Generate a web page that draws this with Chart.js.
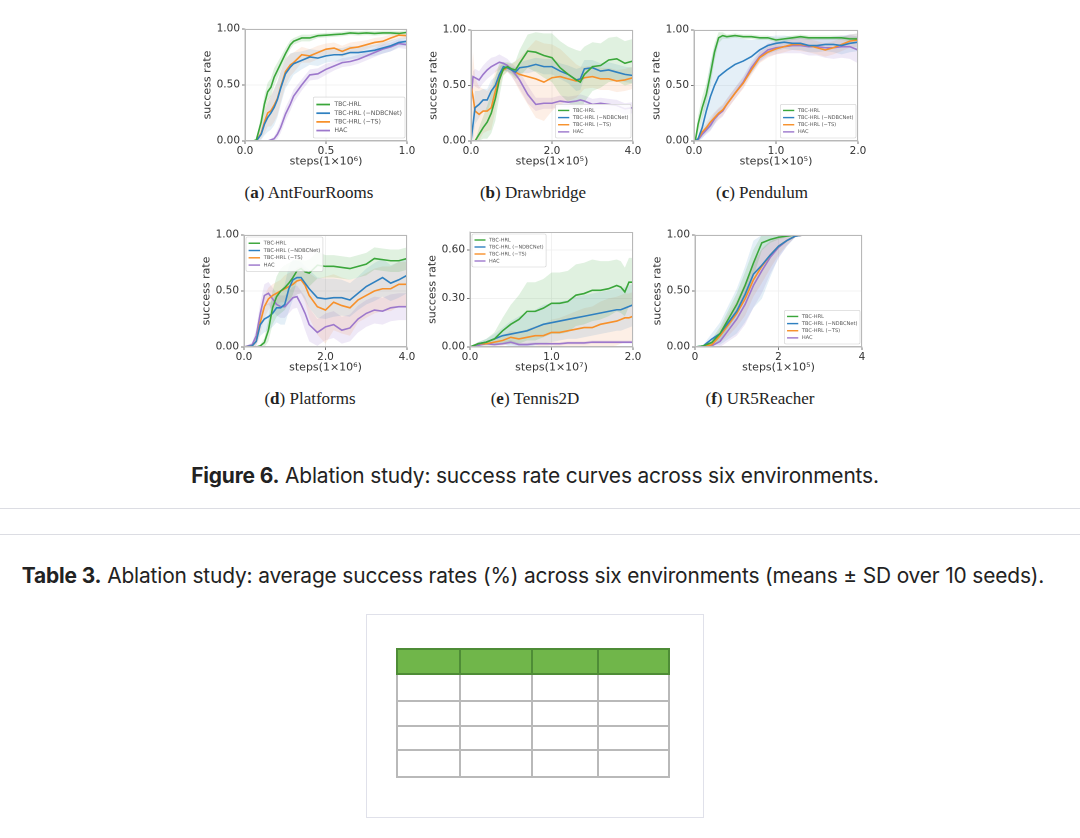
<!DOCTYPE html>
<html><head><meta charset="utf-8">
<script src="https://cdn.jsdelivr.net/npm/chart.js@4.4.1/dist/chart.umd.min.js"></script>
<style>
html,body{margin:0;padding:0;background:#fff;}
body{width:1080px;height:838px;position:relative;overflow:hidden;font-family:Inter,"Open Sans",sans-serif;}
.cv{position:absolute;}
.cap{position:absolute;font-family:"Liberation Serif","DejaVu Serif",serif;font-size:17px;color:#222;transform:translate(-50%,-50%);white-space:nowrap;line-height:1;}
.fig{position:absolute;font-size:20.9px;color:#222;transform:translate(-50%,-50%);white-space:nowrap;line-height:1;letter-spacing:-0.15px;}
.fig b{font-weight:700;}
.rule{position:absolute;left:0;width:1080px;height:1px;background:#dcdde3;}
.box{position:absolute;left:366px;top:614px;width:336px;height:202px;border:1px solid #e0e1ea;}
table.t{position:absolute;left:396px;top:648px;border-collapse:collapse;}
table.t td{border:2px solid #b9b9b9;padding:0;}
table.t tr.h td{background:#70b64a;border:2px solid #4e8c36;}
</style>
</head><body>
<div class="cap" style="left:309px;top:192px;">(<b>a</b>) AntFourRooms</div>
<div class="cap" style="left:533px;top:192px;">(<b>b</b>) Drawbridge</div>
<div class="cap" style="left:762px;top:192px;">(<b>c</b>) Pendulum</div>
<div class="cap" style="left:310px;top:398px;">(<b>d</b>) Platforms</div>
<div class="cap" style="left:535px;top:398px;">(<b>e</b>) Tennis2D</div>
<div class="cap" style="left:760px;top:398px;">(<b>f</b>) UR5Reacher</div>
<div class="fig" style="left:535px;top:476px;"><b>Figure 6.</b> Ablation study: success rate curves across six environments.</div>
<div class="rule" style="top:508px;"></div>
<div class="rule" style="top:534px;"></div>
<div class="fig" style="left:533px;top:576px;"><b>Table 3.</b> Ablation study: average success rates (%) across six environments (means ± SD over 10 seeds).</div>
<div class="box"></div>
<table class="t">
<tr class="h" style="height:25px"><td style="width:61px"></td><td style="width:70px"></td><td style="width:64px"></td><td style="width:69px"></td></tr>
<tr style="height:27px"><td></td><td></td><td></td><td></td></tr>
<tr style="height:25px"><td></td><td></td><td></td><td></td></tr>
<tr style="height:24px"><td></td><td></td><td></td><td></td></tr>
<tr style="height:27px"><td></td><td></td><td></td><td></td></tr>
</table>
<script>
// ---------- DATA ----------
const seriesNames = ['TBC-HRL', 'TBC-HRL (\u2212NDBCNet)', 'TBC-HRL (\u2212TS)', 'HAC'];
const yTitle = 'success rate';
const unitYTicks = [0, 0.5, 1.0];
const tennisYTicks = [0, 0.3, 0.6];

// (a) AntFourRooms
const antXTicks = [0, 0.5, 1.0];
const antX = [0,0.05,0.07,0.1,0.12,0.14,0.16,0.18,0.2,0.22,0.25,0.28,0.3,0.35,0.4,0.45,0.5,0.55,0.6,0.65,0.7,0.75,0.8,0.85,0.9,0.95,1.0];
const antTbc    = [0,0,0.01,0.17,0.33,0.44,0.48,0.57,0.63,0.69,0.78,0.86,0.89,0.92,0.92,0.94,0.945,0.95,0.955,0.965,0.96,0.965,0.96,0.965,0.965,0.96,0.97];
const antNoNdbc = [0,0,0,0.06,0.15,0.21,0.25,0.3,0.37,0.47,0.6,0.66,0.69,0.72,0.75,0.74,0.76,0.77,0.77,0.79,0.79,0.8,0.81,0.83,0.85,0.88,0.89];
const antNoTs   = [0,0,0,0.07,0.17,0.25,0.27,0.32,0.38,0.48,0.62,0.68,0.7,0.77,0.76,0.79,0.82,0.83,0.8,0.83,0.84,0.86,0.88,0.89,0.92,0.945,0.94];
const antHac    = [0,0,0,0,0,0,0.01,0.02,0.06,0.12,0.24,0.33,0.4,0.5,0.59,0.6,0.64,0.67,0.7,0.71,0.73,0.76,0.79,0.82,0.84,0.87,0.86];
const antTbcSd    = [0,0,0.01,0.06,0.08,0.08,0.08,0.08,0.07,0.06,0.05,0.04,0.03,0.03,0.03,0.02,0.02,0.02,0.02,0.02,0.02,0.02,0.02,0.02,0.02,0.02,0.02];
const antNoNdbcSd = [0,0,0,0.05,0.1,0.13,0.15,0.16,0.16,0.15,0.13,0.12,0.1,0.08,0.07,0.07,0.06,0.06,0.06,0.06,0.05,0.05,0.05,0.05,0.05,0.04,0.04];
const antNoTsSd   = [0,0,0,0.05,0.1,0.12,0.14,0.15,0.15,0.14,0.12,0.1,0.09,0.07,0.06,0.06,0.05,0.05,0.05,0.05,0.05,0.04,0.04,0.04,0.03,0.03,0.03];
const antHacSd    = [0,0,0,0,0,0,0.01,0.02,0.04,0.05,0.06,0.06,0.06,0.05,0.05,0.05,0.05,0.04,0.04,0.04,0.04,0.04,0.04,0.04,0.04,0.04,0.04];

// (b) Drawbridge
const drawXTicks = [0, 2, 4];
const drawX = [0,0.05,0.1,0.2,0.3,0.4,0.5,0.6,0.7,0.8,0.9,1.0,1.1,1.2,1.4,1.6,1.8,2.0,2.2,2.4,2.6,2.7,2.8,3.0,3.2,3.4,3.6,3.8,4.0];
const drawTbc    = [0,0,0,0.06,0.12,0.17,0.25,0.38,0.55,0.65,0.67,0.65,0.64,0.7,0.81,0.8,0.77,0.75,0.66,0.6,0.55,0.53,0.6,0.67,0.68,0.73,0.74,0.7,0.72];
const drawNoNdbc = [0,0.15,0.3,0.33,0.37,0.37,0.45,0.5,0.6,0.67,0.66,0.64,0.62,0.66,0.67,0.69,0.67,0.67,0.63,0.6,0.55,0.56,0.65,0.66,0.63,0.64,0.62,0.6,0.59];
const drawNoTs   = [0.5,0.4,0.27,0.24,0.27,0.27,0.3,0.45,0.58,0.64,0.66,0.64,0.62,0.6,0.58,0.56,0.53,0.57,0.58,0.56,0.54,0.55,0.57,0.58,0.56,0.56,0.54,0.55,0.57];
const drawHac    = [0.35,0.58,0.57,0.55,0.6,0.64,0.67,0.69,0.71,0.7,0.68,0.64,0.6,0.55,0.42,0.33,0.34,0.34,0.36,0.35,0.36,0.37,0.36,0.33,0.34,0.33,0.32,0.29,0.3];
const drawTbcSd    = [0,0,0,0.06,0.1,0.15,0.18,0.2,0.15,0.06,0.04,0.05,0.08,0.12,0.15,0.18,0.2,0.22,0.24,0.25,0.27,0.28,0.25,0.22,0.2,0.2,0.2,0.2,0.2];
const drawNoNdbcSd = [0,0.15,0.15,0.12,0.1,0.1,0.1,0.08,0.06,0.04,0.03,0.03,0.04,0.05,0.06,0.06,0.07,0.07,0.07,0.08,0.1,0.1,0.08,0.07,0.07,0.07,0.07,0.07,0.07];
const drawNoTsSd   = [0,0.4,0.3,0.25,0.2,0.18,0.2,0.18,0.1,0.05,0.04,0.05,0.1,0.15,0.25,0.35,0.35,0.3,0.25,0.2,0.15,0.12,0.1,0.1,0.1,0.1,0.1,0.1,0.1];
const drawHacSd    = [0,0.05,0.08,0.08,0.08,0.08,0.08,0.07,0.07,0.06,0.06,0.06,0.07,0.08,0.08,0.06,0.05,0.05,0.05,0.05,0.05,0.05,0.05,0.05,0.05,0.05,0.05,0.05,0.05];

// (c) Pendulum
const pendXTicks = [0, 1, 2];
const pendX = [0,0.02,0.05,0.1,0.15,0.2,0.25,0.3,0.35,0.4,0.5,0.6,0.7,0.8,0.9,1.0,1.1,1.2,1.3,1.4,1.5,1.6,1.7,1.8,1.9,2.0];
const pendTbc    = [0,0.02,0.15,0.3,0.42,0.6,0.8,0.93,0.95,0.94,0.95,0.94,0.94,0.93,0.93,0.91,0.92,0.93,0.94,0.93,0.93,0.93,0.93,0.93,0.92,0.92];
const pendNoNdbc = [0,0,0.02,0.12,0.27,0.4,0.5,0.58,0.61,0.64,0.69,0.72,0.76,0.82,0.86,0.88,0.89,0.88,0.88,0.86,0.86,0.87,0.87,0.86,0.88,0.89];
const pendNoTs   = [0,0,0.02,0.08,0.12,0.17,0.21,0.25,0.28,0.33,0.43,0.52,0.64,0.75,0.8,0.83,0.85,0.87,0.87,0.86,0.84,0.82,0.84,0.87,0.9,0.91];
const pendHac    = [0,0,0.01,0.06,0.1,0.14,0.2,0.24,0.27,0.33,0.43,0.53,0.66,0.76,0.82,0.84,0.85,0.86,0.86,0.85,0.85,0.84,0.84,0.85,0.85,0.82];
const pendTbcSd    = [0,0.02,0.08,0.1,0.1,0.1,0.08,0.05,0.03,0.02,0.02,0.02,0.02,0.02,0.02,0.02,0.02,0.02,0.02,0.02,0.02,0.02,0.02,0.02,0.02,0.02];
const pendNoNdbcSd = [0,0,0.02,0.1,0.2,0.3,0.35,0.35,0.33,0.3,0.25,0.2,0.15,0.1,0.08,0.07,0.06,0.06,0.06,0.06,0.06,0.06,0.07,0.08,0.08,0.08];
const pendNoTsSd   = [0,0,0.02,0.03,0.04,0.05,0.05,0.05,0.05,0.05,0.05,0.05,0.05,0.05,0.05,0.05,0.05,0.05,0.06,0.06,0.06,0.06,0.06,0.06,0.06,0.06];
const pendHacSd    = [0,0,0.01,0.03,0.04,0.05,0.05,0.05,0.05,0.05,0.05,0.05,0.05,0.05,0.06,0.06,0.06,0.07,0.07,0.08,0.08,0.09,0.1,0.1,0.11,0.12];

// (d) Platforms
const platXTicks = [0, 2, 4];
const platX = [0,0.2,0.3,0.4,0.5,0.6,0.7,0.8,0.9,1.0,1.1,1.2,1.3,1.4,1.5,1.6,1.8,2.0,2.2,2.4,2.6,2.8,3.0,3.2,3.4,3.6,3.8,4.0];
const platTbc    = [0,0,0,0.01,0.04,0.15,0.35,0.45,0.5,0.53,0.57,0.62,0.68,0.7,0.67,0.66,0.73,0.72,0.72,0.71,0.7,0.72,0.74,0.79,0.78,0.77,0.77,0.79];
const platNoNdbc = [0,0.01,0.05,0.2,0.25,0.27,0.3,0.35,0.35,0.38,0.52,0.6,0.62,0.62,0.57,0.52,0.44,0.43,0.44,0.44,0.42,0.48,0.54,0.58,0.62,0.57,0.6,0.64];
const platNoTs   = [0,0.01,0.05,0.22,0.36,0.43,0.46,0.48,0.5,0.52,0.54,0.56,0.59,0.6,0.55,0.46,0.36,0.33,0.4,0.37,0.35,0.42,0.46,0.5,0.52,0.52,0.56,0.56];
const platHac    = [0,0.02,0.1,0.3,0.46,0.48,0.43,0.38,0.36,0.36,0.4,0.44,0.45,0.38,0.3,0.2,0.13,0.18,0.2,0.15,0.17,0.25,0.3,0.33,0.32,0.35,0.36,0.36];
const platTbcSd    = [0,0,0,0.01,0.04,0.1,0.15,0.18,0.2,0.2,0.18,0.15,0.1,0.08,0.1,0.12,0.12,0.1,0.1,0.1,0.1,0.1,0.1,0.1,0.1,0.1,0.1,0.1];
const platNoNdbcSd = [0,0.01,0.04,0.1,0.12,0.12,0.12,0.13,0.15,0.18,0.2,0.18,0.15,0.14,0.15,0.17,0.18,0.18,0.17,0.16,0.15,0.15,0.16,0.17,0.17,0.16,0.16,0.16];
const platNoTsSd   = [0,0.01,0.04,0.1,0.1,0.1,0.1,0.1,0.1,0.12,0.12,0.12,0.12,0.12,0.15,0.2,0.25,0.3,0.25,0.25,0.25,0.2,0.2,0.2,0.2,0.2,0.2,0.2];
const platHacSd    = [0,0.02,0.06,0.1,0.1,0.1,0.1,0.1,0.1,0.1,0.1,0.1,0.1,0.12,0.15,0.15,0.12,0.12,0.12,0.12,0.12,0.12,0.12,0.12,0.12,0.12,0.12,0.12];

// (e) Tennis2D
const tennisXTicks = [0, 1, 2];
const tennisX = [0,0.1,0.2,0.3,0.4,0.5,0.6,0.7,0.8,0.9,1.0,1.1,1.2,1.3,1.4,1.5,1.6,1.7,1.8,1.85,1.9,1.95,2.0];
const tennisTbc    = [0,0.02,0.03,0.05,0.1,0.14,0.17,0.22,0.22,0.24,0.27,0.27,0.28,0.32,0.33,0.35,0.35,0.36,0.38,0.37,0.34,0.4,0.4];
const tennisNoNdbc = [0,0.02,0.03,0.05,0.07,0.08,0.09,0.1,0.12,0.14,0.15,0.16,0.17,0.18,0.19,0.2,0.21,0.22,0.23,0.23,0.24,0.25,0.26];
const tennisNoTs   = [0,0.02,0.02,0.03,0.04,0.06,0.05,0.06,0.07,0.07,0.09,0.09,0.1,0.11,0.12,0.12,0.14,0.15,0.16,0.17,0.18,0.18,0.19];
const tennisHac    = [0,0.01,0.02,0.015,0.02,0.03,0.015,0.015,0.02,0.02,0.02,0.02,0.025,0.025,0.025,0.03,0.03,0.03,0.03,0.03,0.03,0.03,0.03];
const tennisTbcSd    = [0,0.01,0.02,0.04,0.08,0.12,0.15,0.18,0.18,0.18,0.19,0.19,0.19,0.19,0.19,0.19,0.18,0.17,0.16,0.16,0.15,0.15,0.15];
const tennisNoNdbcSd = [0,0.01,0.02,0.03,0.05,0.08,0.1,0.11,0.11,0.12,0.12,0.12,0.12,0.13,0.13,0.13,0.13,0.13,0.13,0.13,0.13,0.13,0.13];
const tennisNoTsSd   = [0,0.01,0.01,0.02,0.03,0.04,0.04,0.05,0.06,0.07,0.08,0.09,0.1,0.11,0.12,0.13,0.14,0.15,0.15,0.15,0.15,0.15,0.15];
const tennisHacSd    = [0,0.005,0.01,0.01,0.01,0.015,0.01,0.01,0.01,0.01,0.01,0.01,0.01,0.01,0.01,0.01,0.01,0.01,0.01,0.01,0.01,0.01,0.01];

// (f) UR5Reacher
const urXTicks = [0, 2, 4];
const urX = [0,0.2,0.4,0.6,0.8,1.0,1.2,1.4,1.6,1.8,2.0,2.2,2.4,2.6,3.0,3.5,4.0];
const urTbc    = [0,0.01,0.04,0.12,0.25,0.38,0.55,0.75,0.93,0.96,0.98,0.99,1.0,1.0,1.0,1.0,1.0];
const urNoNdbc = [0,0.01,0.07,0.12,0.22,0.32,0.47,0.65,0.73,0.82,0.9,0.95,0.99,1.0,1.0,1.0,1.0];
const urNoTs   = [0,0.005,0.02,0.1,0.2,0.3,0.43,0.6,0.72,0.82,0.9,0.95,0.99,1.0,1.0,1.0,1.0];
const urHac    = [0,0.005,0.01,0.05,0.15,0.25,0.38,0.55,0.68,0.8,0.89,0.95,0.99,1.0,1.0,1.0,1.0];
const urTbcSd    = [0,0.01,0.03,0.06,0.08,0.1,0.12,0.12,0.07,0.03,0.02,0.01,0,0,0,0,0];
const urNoNdbcSd = [0,0.01,0.05,0.1,0.15,0.2,0.25,0.3,0.3,0.2,0.1,0.05,0.01,0,0,0,0];
const urNoTsSd   = [0,0.01,0.03,0.06,0.1,0.12,0.15,0.15,0.15,0.12,0.08,0.04,0.01,0,0,0,0];
const urHacSd    = [0,0.01,0.02,0.05,0.1,0.15,0.18,0.2,0.2,0.15,0.1,0.05,0.01,0,0,0,0];

// ---------- STYLE ----------
const lineColors = ['#3aa63a', '#2f80c0', '#f7902a', '#9d78cc'];
const bandColors = ['rgba(60,170,60,0.16)', 'rgba(47,128,192,0.13)', 'rgba(240,130,60,0.13)', 'rgba(157,120,204,0.16)'];

Chart.defaults.font.family = '"DejaVu Sans", sans-serif';

const innerLegend = {
  id: 'innerLegend',
  afterDatasetsDraw(chart, args, o) {
    const {ctx, chartArea: a} = chart;
    ctx.save();
    ctx.strokeStyle = '#b8b8b8'; ctx.lineWidth = 1;
    ctx.strokeRect(a.left + 0.5, a.top + 0.5, a.right - a.left - 1, a.bottom - a.top - 1);
    if (o && o.corner) {
      const fs = o.fs;
      ctx.font = fs + 'px "DejaVu Sans"';
      const tw = Math.max(...seriesNames.map(n => ctx.measureText(n).width));
      const lineLen = fs * 2.2, gap = fs * 0.7, pad = fs * 0.5, rowH = fs * 1.4;
      const bw = pad + lineLen + gap + tw + pad, bh = pad * 2 + rowH * 4;
      let bx, by;
      if (o.corner === 'br') { bx = a.right - 2 - bw; by = a.bottom - 3 - bh; }
      else { bx = a.left + 2; by = a.top + 2; }
      ctx.fillStyle = 'rgba(255,255,255,0.85)';
      ctx.strokeStyle = '#d0d0d0'; ctx.lineWidth = 0.6;
      ctx.beginPath(); ctx.roundRect(bx, by, bw, bh, 1.5); ctx.fill(); ctx.stroke();
      seriesNames.forEach((n, i) => {
        const cy = by + pad + rowH * (i + 0.5);
        ctx.strokeStyle = lineColors[i]; ctx.lineWidth = Math.max(1, fs * 0.28);
        ctx.beginPath(); ctx.moveTo(bx + pad, cy); ctx.lineTo(bx + pad + lineLen, cy); ctx.stroke();
        ctx.fillStyle = '#555'; ctx.textBaseline = 'middle';
        ctx.fillText(n, bx + pad + lineLen + gap, cy);
      });
    }
    ctx.restore();
  }
};
Chart.register(innerLegend);

const panels = [
  {rect:[245,29,407,141], x:antX, means:[antTbc,antNoNdbc,antNoTs,antHac], sds:[antTbcSd,antNoNdbcSd,antNoTsSd,antHacSd], xMax:1, yMax:1, xTicks:antXTicks, yTicks:unitYTicks, xDec:1, xTitle:'steps(1\u00d710\u2076)', legend:{corner:'br', fs:6.2}},
  {rect:[471,30,633,141], x:drawX, means:[drawTbc,drawNoNdbc,drawNoTs,drawHac], sds:[drawTbcSd,drawNoNdbcSd,drawNoTsSd,drawHacSd], xMax:4, yMax:1, xTicks:drawXTicks, yTicks:unitYTicks, xDec:1, xTitle:'steps(1\u00d710\u2075)', legend:{corner:'br', fs:5.1}},
  {rect:[694,30,858,141], x:pendX, means:[pendTbc,pendNoNdbc,pendNoTs,pendHac], sds:[pendTbcSd,pendNoNdbcSd,pendNoTsSd,pendHacSd], xMax:2, yMax:1, xTicks:pendXTicks, yTicks:unitYTicks, xDec:1, xTitle:'steps(1\u00d710\u2075)', legend:{corner:'br', fs:5.1}},
  {rect:[244,235,407,347], x:platX, means:[platTbc,platNoNdbc,platNoTs,platHac], sds:[platTbcSd,platNoNdbcSd,platNoTsSd,platHacSd], xMax:4, yMax:1, xTicks:platXTicks, yTicks:unitYTicks, xDec:1, xTitle:'steps(1\u00d710\u2076)', legend:{corner:'tl', fs:5.2}},
  {rect:[470,232,633,347], x:tennisX, means:[tennisTbc,tennisNoNdbc,tennisNoTs,tennisHac], sds:[tennisTbcSd,tennisNoNdbcSd,tennisNoTsSd,tennisHacSd], xMax:2, yMax:0.71, xTicks:tennisXTicks, yTicks:tennisYTicks, xDec:1, xTitle:'steps(1\u00d710\u2077)', legend:{corner:'tl', fs:5}},
  {rect:[695,235,862,347], x:urX, means:[urTbc,urNoNdbc,urNoTs,urHac], sds:[urTbcSd,urNoNdbcSd,urNoTsSd,urHacSd], xMax:4, yMax:1, xTicks:urXTicks, yTicks:unitYTicks, xDec:0, xTitle:'steps(1\u00d710\u2075)', legend:{corner:'br', fs:5.1}}
];

panels.forEach(p => {
  const [L, T, R, B] = p.rect;
  const W = R - L + 62, H = B - T + 40;
  const cv = document.createElement('canvas');
  cv.className = 'cv';
  cv.width = W; cv.height = H;
  cv.style.left = (L - 52) + 'px'; cv.style.top = (T - 10) + 'px';
  cv.style.width = W + 'px'; cv.style.height = H + 'px';
  document.body.appendChild(cv);
  const ds = [];
  p.means.forEach((m, i) => {
    const sd = p.sds[i];
    ds.push({data: m.map((v, k) => ({x: p.x[k], y: Math.min(p.yMax, v + sd[k])})), borderWidth: 0, pointRadius: 0, fill: '+1', backgroundColor: bandColors[i], order: 10 + i});
    ds.push({data: m.map((v, k) => ({x: p.x[k], y: Math.max(0, v - sd[k])})), borderWidth: 0, pointRadius: 0, fill: false, order: 10 + i});
  });
  p.means.forEach((m, i) => {
    ds.push({label: seriesNames[i], data: m.map((v, k) => ({x: p.x[k], y: v})), borderColor: lineColors[i], borderWidth: 1.6, pointRadius: 0, fill: false, tension: 0, order: i});
  });
  new Chart(cv, {
    type: 'line',
    data: {datasets: ds},
    options: {
      responsive: false, animation: false, devicePixelRatio: 2,
      layout: {padding: {top: 10, right: 10, left: 0, bottom: 0}},
      plugins: {legend: {display: false}, tooltip: {enabled: false}, innerLegend: p.legend},
      scales: {
        x: {
          type: 'linear', min: 0, max: p.xMax,
          afterBuildTicks: s => { s.ticks = p.xTicks.map(v => ({value: v})); },
          afterFit: s => { s.height = 30; },
          ticks: {callback: v => Number(v).toFixed(p.xDec), font: {size: 10.5}, color: '#333', padding: 1, maxRotation: 0, autoSkip: false},
          grid: {color: '#eeeeee', lineWidth: 0.8, tickLength: 3, tickColor: '#555'},
          border: {display: true, color: '#bbb'},
          title: {display: true, text: p.xTitle, font: {size: 11}, color: '#333', padding: {top: 0, bottom: 3}}
        },
        y: {
          min: 0, max: p.yMax,
          afterBuildTicks: s => { s.ticks = p.yTicks.map(v => ({value: v})); },
          afterFit: s => { s.width = 52; },
          ticks: {callback: v => Number(v).toFixed(2), font: {size: 10.5}, color: '#333', padding: 2, autoSkip: false},
          grid: {color: '#eeeeee', lineWidth: 0.8, tickLength: 3, tickColor: '#555'},
          border: {display: true, color: '#bbb'},
          title: {display: true, text: yTitle, font: {size: 11}, color: '#333', padding: {top: 8, bottom: 0}}
        }
      }
    }
  });
});
</script>
</body></html>
